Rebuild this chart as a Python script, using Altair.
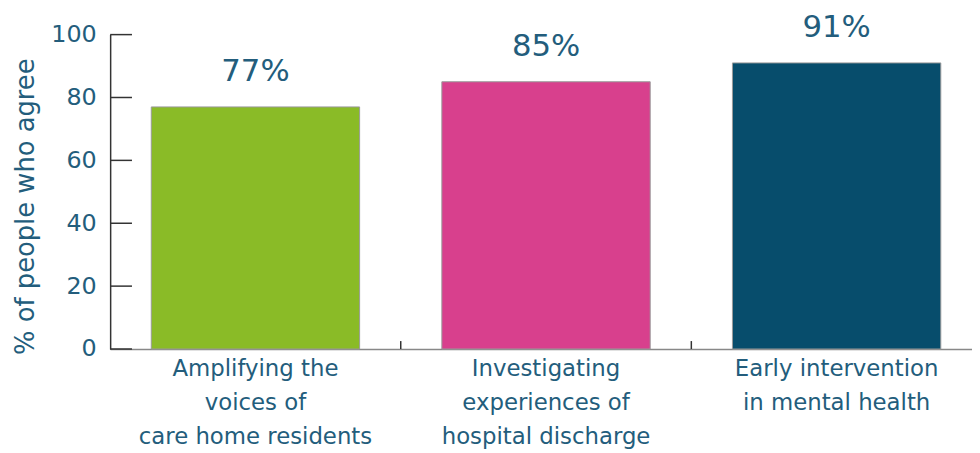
import altair as alt
import pandas as pd

categories = [
    "Amplifying the|voices of|care home residents",
    "Investigating|experiences of|hospital discharge",
    "Early intervention|in mental health",
]
values = [77, 85, 91]
value_labels = ["77%", "85%", "91%"]
colors = ["#8abb27", "#d8408d", "#074d6c"]
y_ticks = [0, 20, 40, 60, 80, 100]
x_tick_cats = categories[1:]

TEXT = "#235d7c"
FONT = "DejaVu Sans"

df = pd.DataFrame({"cat": categories, "value": values, "label": value_labels})
df_yt = pd.DataFrame({"value": y_ticks})
df_xt = pd.DataFrame({"cat": x_tick_cats})

W, H = 879, 317
xscale = alt.Scale(domain=categories, paddingInner=0, paddingOuter=0)
yscale = alt.Scale(domain=[0, 100])

bars = alt.Chart(df).mark_bar(
    width=alt.RelativeBandSize(0.717), stroke="#9a9a9a", strokeWidth=1
).encode(
    x=alt.X("cat:N", scale=xscale, sort=categories,
            axis=alt.Axis(title=None, labelAngle=0, labelExpr="split(datum.label, '|')",
                          labelFont=FONT, labelFontSize=23, labelColor=TEXT,
                          labelLineHeight=34, labelPadding=9, labelLimit=0,
                          ticks=False, grid=False, domainColor="#888888", domainWidth=1.5)),
    y=alt.Y("value:Q", scale=yscale,
            axis=alt.Axis(title="% of people who agree", values=y_ticks, grid=False,
                          ticks=False, labelFont=FONT, labelFontSize=24,
                          labelColor=TEXT, labelPadding=14, titleFont=FONT,
                          titleFontSize=26, titleFontWeight="normal", titleColor=TEXT,
                          titlePadding=12, titleY=173,
                          domainColor="#333333", domainWidth=1.5)),
    color=alt.Color("cat:N", scale=alt.Scale(domain=categories, range=colors), legend=None),
)

texts = alt.Chart(df).mark_text(
    baseline="bottom", dy=-19, font=FONT, fontSize=31, color=TEXT
).encode(
    x=alt.X("cat:N", scale=xscale, sort=categories),
    y=alt.Y("value:Q", scale=yscale),
    text="label:N",
)

ytick_rules = alt.Chart(df_yt).mark_rule(color="#333333", strokeWidth=1.5).encode(
    y=alt.Y("value:Q", scale=yscale),
    x=alt.value(0),
    x2=alt.value(22),
)

xtick_rules = alt.Chart(df_xt).mark_rule(color="#333333", strokeWidth=1.5).encode(
    x=alt.X("cat:N", scale=xscale, sort=categories, bandPosition=0),
    y=alt.value(H - 8),
    y2=alt.value(H),
)

chart = alt.layer(bars, texts, ytick_rules, xtick_rules).properties(
    width=W, height=H,
    autosize=alt.AutoSizeParams(type="none"),
    padding={"left": 103, "top": 25, "right": -10, "bottom": 100},
).configure(
    background="white",
    view=alt.ViewConfig(stroke=None),
    axis=alt.AxisConfig(grid=False),
)

chart.save("out.html", embed_options={"renderer": "svg", "actions": False})
